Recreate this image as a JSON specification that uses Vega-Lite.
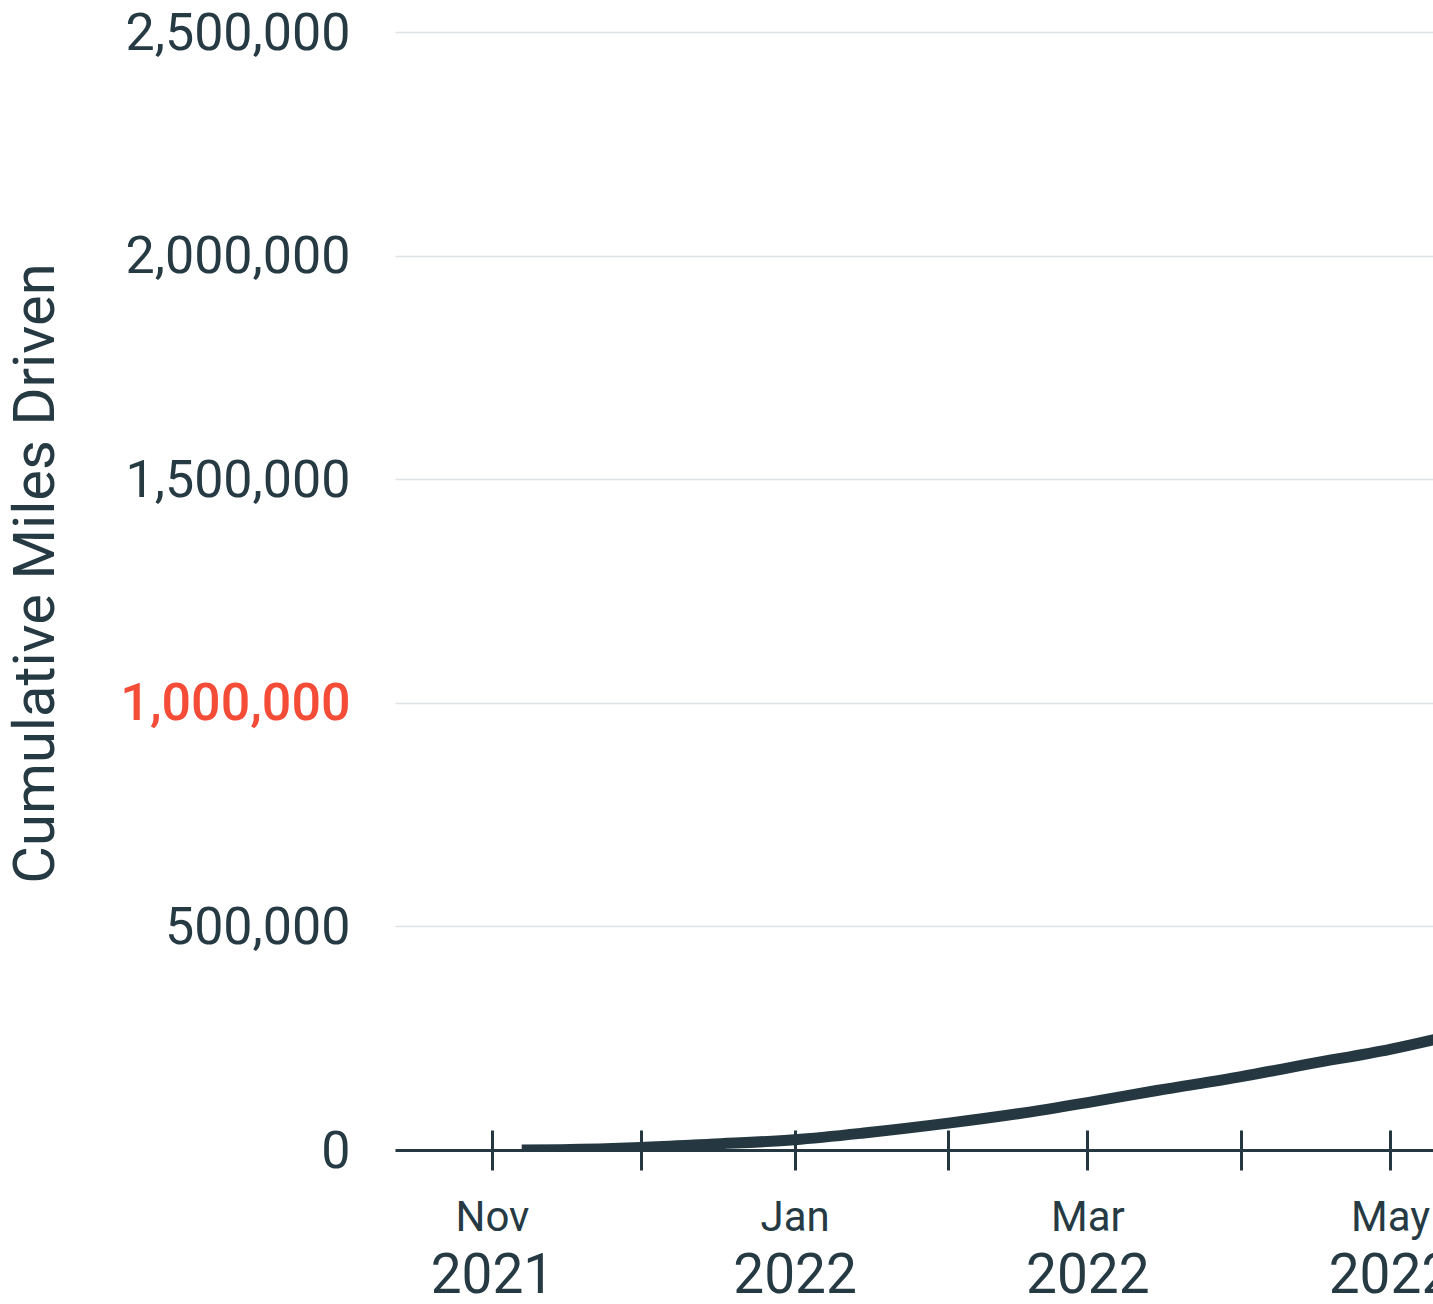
{
  "$schema": "https://vega.github.io/schema/vega-lite/v6.json",
  "width": 1038,
  "height": 1118,
  "autosize": {"type": "none"},
  "padding": {"left": 395, "top": 32, "right": 0, "bottom": 154},
  "background": "white",
  "config": {"view": {"stroke": null}, "font": "Roboto"},
  "data": {
    "values": [
      {"date": "2021-11-07T00:00:00", "miles": 0},
      {"date": "2021-11-15T00:00:00", "miles": 600},
      {"date": "2021-12-01T00:00:00", "miles": 5500},
      {"date": "2021-12-15T00:00:00", "miles": 13000},
      {"date": "2022-01-01T00:00:00", "miles": 23000},
      {"date": "2022-01-15T00:00:00", "miles": 38000},
      {"date": "2022-02-01T00:00:00", "miles": 60000},
      {"date": "2022-02-15T00:00:00", "miles": 81000},
      {"date": "2022-03-01T00:00:00", "miles": 106000},
      {"date": "2022-03-15T00:00:00", "miles": 133000},
      {"date": "2022-04-01T00:00:00", "miles": 164000},
      {"date": "2022-04-15T00:00:00", "miles": 193000},
      {"date": "2022-05-01T00:00:00", "miles": 225000},
      {"date": "2022-05-15T00:00:00", "miles": 260000}
    ]
  },
  "resolve": {"axis": {"x": "independent"}},
  "layer": [
    {
      "mark": {"type": "rule", "strokeOpacity": 0},
      "encoding": {
        "x": {
          "field": "date",
          "type": "temporal",
          "scale": {"domain": [{"year": 2021, "month": 10, "date": 12, "hours": 11}, {"year": 2022, "month": 5, "date": 9, "hours": 16}]},
          "axis": {
            "orient": "bottom",
            "offset": -20,
            "title": null,
            "grid": false,
            "domain": false,
            "tickCount": {"interval": "month", "step": 1},
            "ticks": true,
            "tickSize": 20,
            "tickWidth": 3,
            "tickColor": "#253842",
            "labelExpr": "month(datum.value) % 2 == 0 ? timeFormat(datum.value, '%Y') : ''",
            "labelFontSize": 55,
            "labelColor": "#263a43",
            "labelPadding": 99,
            "labelFlush": false,
            "labelOverlap": false,
            "labelAlign": "center"
          }
        }
      }
    },
    {
      "mark": {"type": "line", "color": "#253842", "strokeWidth": 11, "interpolate": "monotone", "clip": true},
      "encoding": {
        "x": {
          "field": "date",
          "type": "temporal",
          "axis": {
            "orient": "bottom",
            "title": null,
            "grid": false,
            "tickCount": {"interval": "month", "step": 1},
            "domain": true,
            "domainColor": "#253842",
            "domainWidth": 3,
            "ticks": true,
            "tickSize": 20,
            "tickWidth": 3,
            "tickColor": "#253842",
            "labelExpr": "month(datum.value) % 2 == 0 ? timeFormat(datum.value, '%b') : ''",
            "labelFontSize": 42,
            "labelColor": "#263a43",
            "labelPadding": 27,
            "labelFlush": false,
            "labelOverlap": false,
            "labelAlign": "center"
          }
        },
        "y": {
          "field": "miles",
          "type": "quantitative",
          "scale": {"domain": [0, 2500000], "nice": false},
          "axis": {
            "title": "Cumulative Miles Driven",
            "titleFontSize": 58,
            "titleFontWeight": "normal",
            "titleColor": "#263a43",
            "titleX": -342,
            "titleY": 541,
            "titleBaseline": "alphabetic",
            "titleAlign": "center",
            "titleAngle": 270,
            "titleLimit": 1200,
            "values": [0, 500000, 1000000, 1500000, 2000000, 2500000],
            "format": ",d",
            "domain": false,
            "ticks": false,
            "tickSize": 0,
            "grid": true,
            "gridColor": "#dfe3e6",
            "gridWidth": 1.5,
            "labelFontSize": 52,
            "labelLimit": 500,
            "labelPadding": 45,
            "labelOffset": 1,
            "labelColor": {"condition": {"test": "datum.value == 1000000", "value": "#f54c38"}, "value": "#263a43"},
            "labelFontWeight": {"condition": {"test": "datum.value == 1000000", "value": 500}, "value": "normal"}
          }
        }
      }
    }
  ]
}
